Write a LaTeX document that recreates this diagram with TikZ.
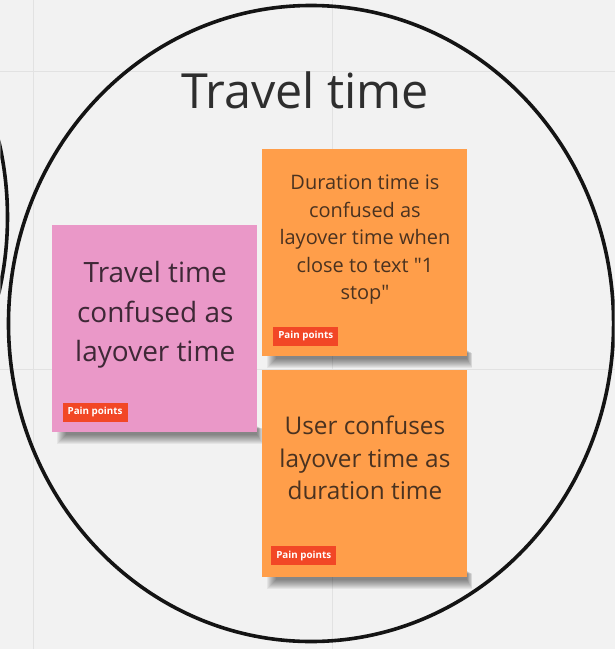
\documentclass[tikz,border=0pt]{standalone}
\usepackage{fontspec}
\setmainfont{Open Sans}[Ligatures=TeXOff]
\usetikzlibrary{calc}
\definecolor{canvas}{HTML}{F2F2F2}
\definecolor{gridline}{HTML}{E2E2E2}
\definecolor{pinknote}{HTML}{EA98C8}
\definecolor{orangenote}{HTML}{FF9E4A}
\definecolor{tagred}{HTML}{F24726}
\definecolor{pinkink}{HTML}{3E2836}
\definecolor{orangeink}{HTML}{4A3220}
\definecolor{titleink}{HTML}{2E2E2E}
\pgfdeclarelayer{board}
\pgfdeclarelayer{shade}
\pgfsetlayers{board,shade,main}
\tikzset{
  sticky/.style={minimum width=205pt, minimum height=207pt, inner sep=0pt},
  tagbox/.style={fill=tagred, text=white, inner sep=0pt, minimum width=65pt, minimum height=19pt,
    font=\bfseries\fontsize{9.8}{10}\selectfont, anchor=south west},
  notetext/.style={align=center, inner sep=0pt},
  bigring/.style={draw=black!92, line width=3.6pt}
}
% soft drop shadow along the lower edge of a note
\newcommand{\noteshadow}[1]{%
  \begin{pgfonlayer}{shade}
    \foreach \r in {0,...,9}
      \fill[black, opacity=0.055]
        ($(#1.south west)+(14-\r,-6+0.3*\r)$) rectangle ($(#1.south east)+(0.6*\r,3+\r)$);
  \end{pgfonlayer}}
\begin{document}
\begin{tikzpicture}[x=1pt, y=-1pt]
  \begin{pgfonlayer}{board}
    \fill[canvas] (0,0) rectangle (615,649);
    % board grid
    \draw[gridline, line width=1pt] (33,0) -- (33,649) (333,0) -- (333,649)
          (0,71) -- (615,71) (0,370) -- (615,370);
  \end{pgfonlayer}
  \useasboundingbox (0,0) rectangle (615,649);
  % cluster outlines
  \begin{scope}
    \clip (0,0) rectangle (615,649);
    \draw[bigring] (-296,217) ellipse [x radius=303pt, y radius=318.5pt];
    \draw[bigring] (311,323.5) ellipse [x radius=303pt, y radius=318.5pt];
  \end{scope}
  \node[font=\fontsize{48.5}{50}\selectfont, text=titleink] (title) at (305,90) {Travel time};

  % sticky notes
  \node[sticky, fill=pinknote] (pink) at (154.5,328.5) {};
  \node[notetext, text=pinkink, font=\fontsize{28}{39.5}\selectfont] (pinktext) at (155,315) {Travel time\\confused as\\layover time};
  \node[tagbox] (pinktag) at (62,422) {Pain points};

  \node[sticky, fill=orangenote] (upper) at (364.5,252.5) {};
  \node[notetext, text=orangeink, font=\fontsize{20}{27.5}\selectfont] (uppertext) at (365,239.5) {Duration time is\\confused as\\layover time when\\close to text "1\\stop"};
  \node[tagbox] (uppertag) at (273,346) {Pain points};

  \node[sticky, fill=orangenote] (lower) at (364.5,473.5) {};
  \node[notetext, text=orangeink, font=\fontsize{24.4}{33}\selectfont] (lowertext) at (365,458) {User confuses\\layover time as\\duration time};
  \node[tagbox] (lowertag) at (271,566) {Pain points};

  \noteshadow{pink}
  \noteshadow{upper}
  \noteshadow{lower}
\end{tikzpicture}
\end{document}
